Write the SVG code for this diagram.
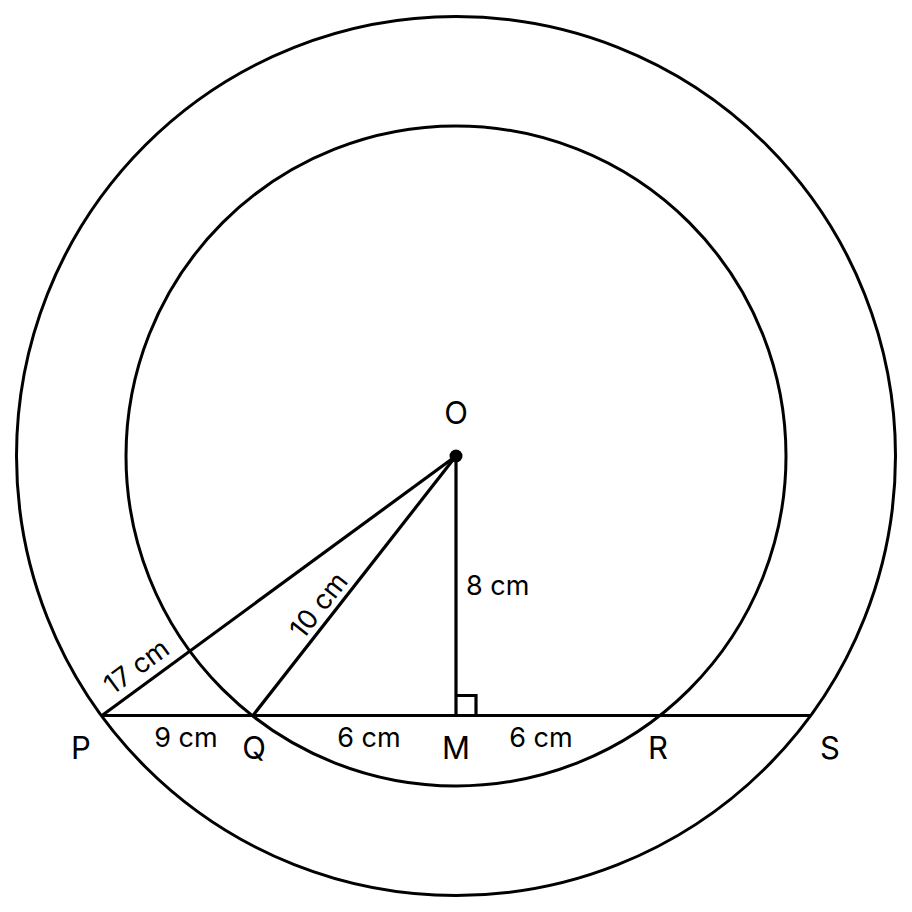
<svg xmlns="http://www.w3.org/2000/svg" width="912" height="912" viewBox="0 0 912 912">
<style>
.c{fill:none;stroke:#000;stroke-width:3}
.l{stroke:#000;stroke-width:3.2;fill:none}
text{font-family:Inter,"Liberation Sans",sans-serif;font-size:27px;fill:#000}
.pt{font-size:31px}
.m{text-anchor:middle}
</style>
<rect width="912" height="912" fill="#fff"/>
<g id="outer-circle"><circle class="c" cx="456" cy="456" r="439.5"/></g>
<g id="inner-circle"><circle class="c" cx="456" cy="456" r="330"/></g>
<g id="connectors">
<line class="l" x1="102" y1="715.5" x2="810" y2="715.5"/>
<line class="l" x1="456" y1="456" x2="102" y2="715.5"/>
<line class="l" x1="456" y1="456" x2="253" y2="715.5"/>
<line class="l" x1="456" y1="456" x2="456" y2="715.5"/>
<polyline class="l" points="456,695.5 476,695.5 476,715.5"/>
</g>
<g id="O"><circle cx="456" cy="456" r="6.5" fill="#000"/><text class="m pt" x="456" y="424">O</text></g>
<g id="P"><text class="m pt" x="81" y="759">P</text></g>
<g id="Q"><text class="m pt" x="254" y="759">Q</text></g>
<g id="M"><text class="m pt" x="456" y="759">M</text></g>
<g id="R"><text class="m pt" x="658" y="759">R</text></g>
<g id="S"><text class="m pt" x="830" y="759">S</text></g>
<g id="labels">
<text class="m" x="186" y="747">9 cm</text>
<text class="m" x="369" y="747">6 cm</text>
<text class="m" x="541" y="747">6 cm</text>
<text x="466" y="595">8 cm</text>
<text class="m" transform="translate(142,674) rotate(-36.2)">17 cm</text>
<text class="m" transform="translate(326,611) rotate(-51.9)">10 cm</text>
</g>
</svg>
